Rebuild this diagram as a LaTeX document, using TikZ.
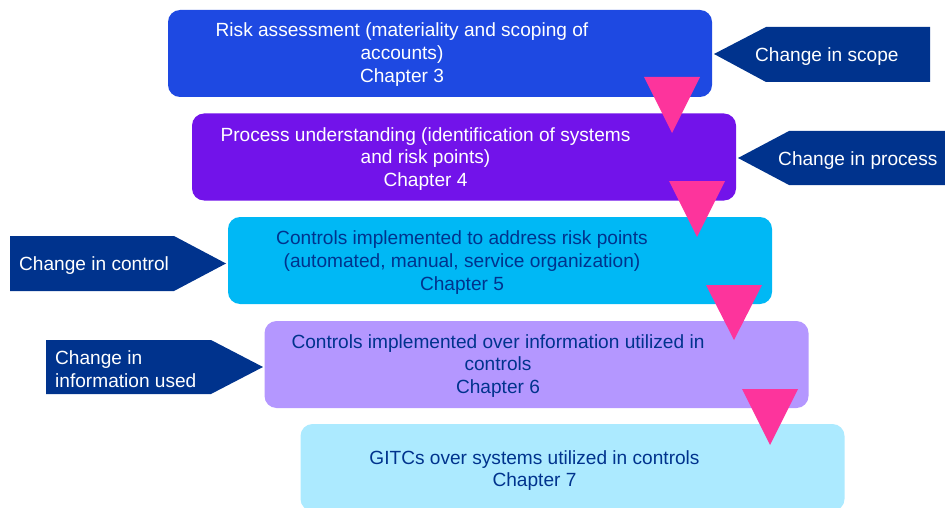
\documentclass[tikz,border=0pt]{standalone}
\usepackage{fontspec}
\setmainfont{Liberation Sans}
\definecolor{cobalt}{HTML}{1E49E2}
\definecolor{kpurple}{HTML}{7213EA}
\definecolor{klight}{HTML}{00B8F5}
\definecolor{klav}{HTML}{B497FF}
\definecolor{kpale}{HTML}{ACEAFF}
\definecolor{knavy}{HTML}{00338D}
\definecolor{kpink}{HTML}{FD349C}
\begin{document}
\begin{tikzpicture}[x=1pt,y=-1pt,
  stagebox/.style={rounded corners=12pt, minimum width=544pt, minimum height=87pt, inner sep=0pt},
  lbl/.style={font=\fontsize{19.1}{22.7}\selectfont, align=center, inner sep=0pt},
  sidelbl/.style={font=\fontsize{19.1}{22.7}\selectfont, align=left, inner sep=0pt, text=white, anchor=west},
  sidearrow/.style={fill=knavy},
  pointer/.style={fill=kpink}]
\useasboundingbox (0,0) rectangle (945,508);
% stage boxes
\node[stagebox, fill=cobalt]  (b1) at (440,53.5) {};
\node[stagebox, fill=kpurple] (b2) at (464,157) {};
\node[stagebox, fill=klight]  (b3) at (500,260.5) {};
\node[stagebox, fill=klav]    (b4) at (536.5,364.5) {};
\node[stagebox, fill=kpale]   (b5) at (572.5,467.5) {};
% stage texts
\node[lbl, text=white] (t1) at (402,54.5) {Risk assessment (materiality and scoping of\\accounts)\\Chapter 3};
\node[lbl, text=white] (t2) at (425.5,159) {Process understanding (identification of systems\\and risk points)\\Chapter 4};
\node[lbl, text=knavy] (t3) at (462,262.5) {Controls implemented to address risk points\\(automated, manual, service organization)\\Chapter 5};
\node[lbl, text=knavy] (t4) at (498,366) {Controls implemented over information utilized in\\controls\\Chapter 6};
\node[lbl, text=knavy] (t5) at (534.5,470.5) {GITCs over systems utilized in controls\\Chapter 7};
% pink pointers
\fill[pointer] (644,77) -- (700,77) -- (672,133) -- cycle;
\fill[pointer] (669,181) -- (725,181) -- (697,237) -- cycle;
\fill[pointer] (706,285) -- (762,285) -- (734,340) -- cycle;
\fill[pointer] (742,389) -- (798,389) -- (770,445) -- cycle;
% side arrows
\coordinate (s1) at (714,54);
\coordinate (s2) at (738,158);
\coordinate (s3) at (226,263.5);
\coordinate (s4) at (263,367);
\fill[sidearrow] (s1) -- (766,27) -- (930,27) -- (930,82) -- (766,82) -- cycle;
\fill[sidearrow] (s2) -- (789,131) -- (950,131) -- (950,185) -- (789,185) -- cycle;
\fill[sidearrow] (s3) -- (174,236) -- (10,236) -- (10,291) -- (174,291) -- cycle;
\fill[sidearrow] (s4) -- (211,340) -- (46,340) -- (46,394) -- (211,394) -- cycle;
\node[sidelbl] (a1) at (755,56.5) {Change in scope};
\node[sidelbl] (a2) at (778,160.5) {Change in process};
\node[sidelbl] (a3) at (19,265.5) {Change in control};
\node[sidelbl] (a4) at (55,369) {Change in\\information used};
\end{tikzpicture}
\end{document}
